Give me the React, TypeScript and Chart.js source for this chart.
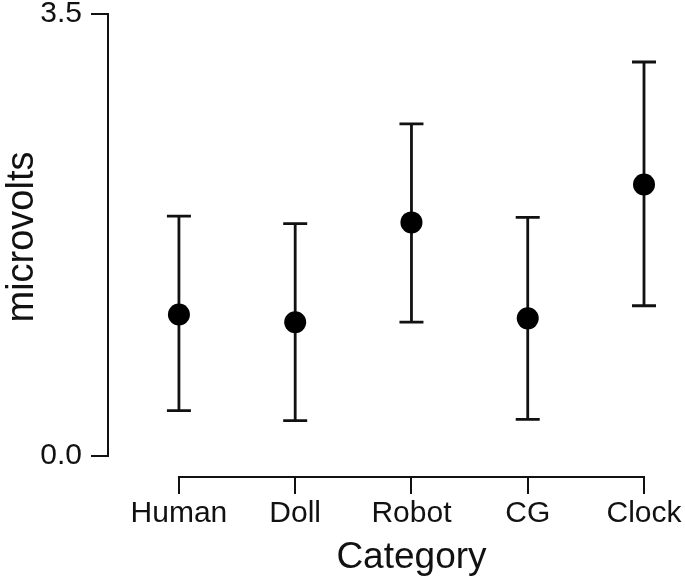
import React, { useEffect, useRef } from "react";
import { Chart, registerables } from "chart.js";

Chart.register(...registerables);

const categories = ["Human", "Doll", "Robot", "CG", "Clock"];
const means = [1.12, 1.06, 1.85, 1.09, 2.15];
const lowers = [0.36, 0.28, 1.06, 0.29, 1.19];
const uppers = [1.9, 1.84, 2.63, 1.89, 3.12];
const yTickValues = [0, 3.5];
const yTickLabels = ["0.0", "3.5"];
const xTitle = "Category";
const yTitle = "microvolts";

const FONT = "'Liberation Sans', Arial, Helvetica, sans-serif";
const INK = "#111111";

const decorPlugin = {
  id: "decor",
  beforeDatasetsDraw(chart: any) {
    const ctx = chart.ctx;
    const xs = chart.scales.x;
    const ys = chart.scales.y;
    const area = chart.chartArea;
    ctx.save();
    ctx.strokeStyle = INK;
    ctx.lineCap = "butt";
    // axis lines (range-frame style)
    ctx.lineWidth = 2;
    ctx.beginPath();
    ctx.moveTo(area.left, ys.getPixelForValue(yTickValues[0]) + 1);
    ctx.lineTo(area.left, ys.getPixelForValue(yTickValues[yTickValues.length - 1]) - 1);
    ctx.stroke();
    ctx.beginPath();
    ctx.moveTo(xs.getPixelForValue(0) - 1, area.bottom);
    ctx.lineTo(xs.getPixelForValue(categories.length - 1) + 1, area.bottom);
    ctx.stroke();
    // error bars
    ctx.lineWidth = 2.8;
    for (let i = 0; i < categories.length; i++) {
      const x = xs.getPixelForValue(i);
      const yl = ys.getPixelForValue(lowers[i]);
      const yu = ys.getPixelForValue(uppers[i]);
      ctx.beginPath();
      ctx.moveTo(x, yl);
      ctx.lineTo(x, yu);
      ctx.moveTo(x - 12, yl);
      ctx.lineTo(x + 12, yl);
      ctx.moveTo(x - 12, yu);
      ctx.lineTo(x + 12, yu);
      ctx.stroke();
    }
    ctx.restore();
  },
  afterDraw(chart: any) {
    const ctx = chart.ctx;
    const xs = chart.scales.x;
    const ys = chart.scales.y;
    ctx.save();
    ctx.fillStyle = INK;
    ctx.font = `37px ${FONT}`;
    ctx.textAlign = "center";
    ctx.textBaseline = "alphabetic";
    const cx = (xs.getPixelForValue(0) + xs.getPixelForValue(categories.length - 1)) / 2;
    ctx.fillText(xTitle, cx, 568);
    const cy = (ys.getPixelForValue(yTickValues[0]) + ys.getPixelForValue(yTickValues[1])) / 2;
    ctx.translate(33, cy + 2);
    ctx.rotate(-Math.PI / 2);
    ctx.font = `38px ${FONT}`;
    ctx.fillText(yTitle, 0, 0);
    ctx.restore();
  },
};

export default function App() {
  const canvasRef = useRef<HTMLCanvasElement | null>(null);

  useEffect(() => {
    document.body.style.margin = "0";
    const canvas = canvasRef.current;
    if (!canvas) return;
    const chart = new Chart(canvas, {
      type: "scatter",
      data: {
        datasets: [
          {
            data: means.map((m, i) => ({ x: i, y: m })),
            pointRadius: 11,
            pointHoverRadius: 11,
            pointBackgroundColor: "#000000",
            pointBorderColor: "#000000",
            pointBorderWidth: 0,
            showLine: false,
            clip: false,
          },
        ],
      },
      options: {
        animation: false,
        responsive: false,
        maintainAspectRatio: false,
        devicePixelRatio: 1,
        events: [],
        layout: { padding: { top: 14, right: 41, bottom: 0, left: 0 } },
        plugins: {
          legend: { display: false },
          tooltip: { enabled: false },
          title: { display: false },
        },
        scales: {
          x: {
            type: "linear",
            min: -0.61,
            max: categories.length - 1,
            afterBuildTicks: (scale: any) => {
              scale.ticks = categories.map((_, i) => ({ value: i }));
            },
            afterFit: (scale: any) => {
              scale.height = 104;
              scale.paddingLeft = 0;
              scale.paddingRight = 0;
            },
            grid: {
              drawOnChartArea: false,
              drawTicks: true,
              tickLength: 17,
              color: INK,
              lineWidth: 2,
            },
            border: { display: false },
            ticks: {
              padding: 2,
              maxRotation: 0,
              autoSkip: false,
              color: INK,
              font: { family: FONT, size: 30 },
              callback: (v: any) => categories[Math.round(Number(v))] ?? "",
            },
          },
          y: {
            type: "linear",
            min: -0.166,
            max: 3.5,
            afterBuildTicks: (scale: any) => {
              scale.ticks = yTickValues.map((v) => ({ value: v }));
            },
            afterFit: (scale: any) => {
              scale.width = 108;
              scale.paddingTop = 0;
              scale.paddingBottom = 0;
            },
            grid: {
              drawOnChartArea: false,
              drawTicks: true,
              tickLength: 17,
              color: INK,
              lineWidth: 2,
            },
            border: { display: false },
            ticks: {
              padding: 9,
              color: INK,
              font: { family: FONT, size: 30 },
              callback: (v: any) => {
                const idx = yTickValues.indexOf(Number(v));
                return idx >= 0 ? yTickLabels[idx] : "";
              },
            },
          },
        },
      },
      plugins: [decorPlugin],
    } as any);
    return () => chart.destroy();
  }, []);

  return (
    <div style={{ width: 685, height: 581, background: "#fff" }}>
      <canvas ref={canvasRef} width={685} height={581} style={{ display: "block" }} />
    </div>
  );
}
